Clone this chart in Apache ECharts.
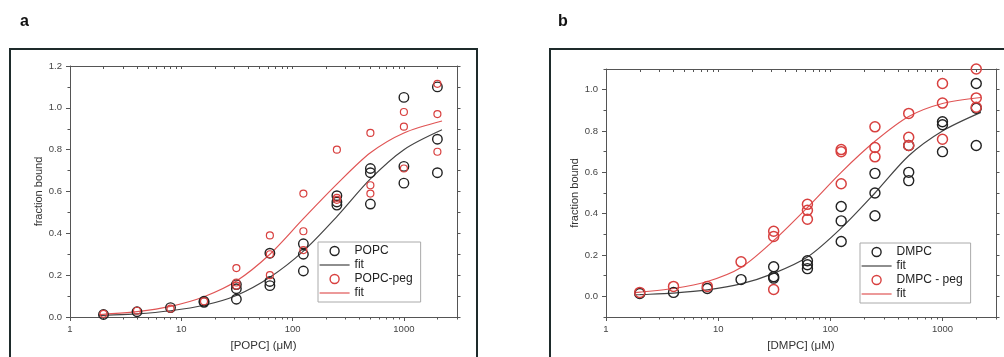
<!DOCTYPE html>
<html>
<head>
<meta charset="utf-8">
<script src="https://cdn.jsdelivr.net/npm/echarts@6/dist/echarts.min.js"></script>
<style>
  html, body { margin: 0; padding: 0; background: #fff; }
  #chart { width: 1004px; height: 357px; }
</style>
</head>
<body>
<div id="chart"></div>
<script>
// concentrations (µM) and replicate readings, one inner list per concentration
const conc = [2, 4, 8, 16, 31.25, 62.5, 125, 250, 500, 1000, 2000];

const popc = [[0.012], [0.025], [0.045], [0.075, 0.07], [0.155, 0.135, 0.085], [0.305, 0.17, 0.15],
  [0.35, 0.30, 0.22], [0.58, 0.55, 0.535], [0.71, 0.69, 0.54], [1.05, 0.72, 0.64], [1.10, 0.85, 0.69]];
const popcPeg = [[0.015], [0.03], [0.04], [0.075], [0.234, 0.165, 0.15], [0.39, 0.30, 0.20],
  [0.59, 0.41, 0.32], [0.80, 0.57, 0.56], [0.88, 0.63, 0.59], [0.98, 0.91, 0.71], [1.115, 0.97, 0.79]];

const dmpc = [[0.014], [0.019], [0.038], [0.081], [0.143, 0.095, 0.088], [0.172, 0.153, 0.134],
  [0.435, 0.365, 0.265], [0.595, 0.50, 0.39], [0.73, 0.60, 0.56], [0.845, 0.83, 0.70], [1.03, 0.91, 0.73]];
const dmpcPeg = [[0.019], [0.048], [0.048], [0.167], [0.315, 0.29, 0.033], [0.445, 0.416, 0.373],
  [0.71, 0.70, 0.545], [0.82, 0.72, 0.675], [0.885, 0.77, 0.73], [1.03, 0.935, 0.76], [1.10, 0.96, 0.915]];

// fitted curves
const fitX = [1.8, 2, 4, 8, 16, 31.25, 62.5, 125, 250, 500, 1000, 2200];
const popcFit = [0.007, 0.008, 0.015, 0.03, 0.056, 0.103, 0.19, 0.315, 0.48, 0.66, 0.8, 0.895];
const popcPegFit = [0.012, 0.013, 0.026, 0.051, 0.097, 0.172, 0.3, 0.47, 0.635, 0.785, 0.88, 0.937];
const dmpcFit = [0.007, 0.008, 0.016, 0.031, 0.06, 0.111, 0.19, 0.33, 0.5, 0.68, 0.8, 0.89];
const dmpcPegFit = [0.018, 0.02, 0.038, 0.072, 0.14, 0.27, 0.43, 0.6, 0.75, 0.87, 0.933, 0.962];

// tick values
const xMajor = [1, 10, 100, 1000];
const xMinor = [2, 3, 4, 5, 6, 7, 8, 9, 20, 30, 40, 50, 60, 70, 80, 90, 200, 300, 400, 500, 600, 700, 800, 900, 2000, 3000];
const yLabelsA = [0, 0.2, 0.4, 0.6, 0.8, 1.0, 1.2];
const yMinorA = [0.1, 0.3, 0.5, 0.7, 0.9, 1.1];
const yLabelsB = [0, 0.2, 0.4, 0.6, 0.8, 1.0];
const yMinorB = [-0.1, 0.1, 0.3, 0.5, 0.7, 0.9, 1.1];

const AXIS = '#555';
const BLACK = '#222';
const RED = '#d8403f';
const FIT_BLACK = '#444';
const FIT_RED = '#e05555';
const FONT = 'Liberation Sans, Arial, sans-serif';
const NONE = 'rgba(0,0,0,0)';

const points = (xs, reps) => xs.flatMap((x, i) => reps[i].map((y) => [x, y]));
const line = (xs, ys) => xs.map((x, i) => [x, ys[i]]);

function xAxes(grid, name) {
  const base = { type: 'log', logBase: 10, min: 1, max: 3000, gridIndex: grid, splitLine: { show: false } };
  return [
    { ...base, position: 'bottom', name, nameLocation: 'middle', nameGap: 23,
      nameTextStyle: { fontFamily: FONT, fontSize: 11.5, color: '#333' },
      axisLine: { onZero: false, lineStyle: { color: AXIS } },
      axisTick: { customValues: xMajor, length: 4, lineStyle: { color: AXIS } },
      axisLabel: { customValues: xMajor, margin: 7, fontFamily: FONT, fontSize: 9.5, color: '#444',
        formatter: (v) => String(Math.round(v)) } },
    { ...base, position: 'bottom', axisLine: { show: false, onZero: false },
      axisTick: { customValues: xMinor, length: 2.5, lineStyle: { color: AXIS } }, axisLabel: { show: false } },
    { ...base, position: 'top', axisLine: { onZero: false, lineStyle: { color: AXIS } },
      axisTick: { customValues: xMajor.concat(xMinor), inside: true, length: 3, lineStyle: { color: AXIS } },
      axisLabel: { show: false } },
  ];
}

function yAxes(grid, min, max, labels, minor) {
  const base = { type: 'value', min, max, gridIndex: grid, splitLine: { show: false } };
  return [
    { ...base, position: 'left', name: 'fraction bound', nameLocation: 'middle', nameGap: 25,
      nameTextStyle: { fontFamily: FONT, fontSize: 11, color: '#333' },
      axisLine: { show: true, onZero: false, lineStyle: { color: AXIS } },
      axisTick: { show: true, customValues: labels, length: 4, lineStyle: { color: AXIS } },
      axisLabel: { customValues: labels, margin: 8, fontFamily: FONT, fontSize: 9.5, color: '#444',
        formatter: (v) => v.toFixed(1) } },
    { ...base, position: 'left', axisLine: { show: false, onZero: false },
      axisTick: { show: true, customValues: minor, length: 2.5, lineStyle: { color: AXIS } }, axisLabel: { show: false } },
    { ...base, position: 'right', axisLine: { show: true, onZero: false, lineStyle: { color: AXIS } },
      axisTick: { show: true, customValues: labels.concat(minor), length: 3.5, lineStyle: { color: AXIS } },
      axisLabel: { show: false } },
  ];
}

function scatter(name, grid, data, color, size, width) {
  return {
    name, type: 'scatter', xAxisIndex: grid * 3, yAxisIndex: grid * 3, data,
    symbol: 'circle', symbolSize: size,
    itemStyle: { color: NONE, borderColor: color, borderWidth: width, opacity: 1 },
    z: 3,
  };
}

function fit(name, grid, data, color) {
  return {
    name, type: 'line', xAxisIndex: grid * 3, yAxisIndex: grid * 3, data,
    smooth: 0.3, symbol: 'none', itemStyle: { color: NONE, borderWidth: 0 },
    lineStyle: { color, width: 1.2 }, z: 2,
  };
}

function legend(left, top, names, colors, kinds) {
  return {
    left, top, orient: 'vertical', itemWidth: 30, itemHeight: 9, itemGap: 2,
    padding: [3, 8, 3, 1], borderColor: '#aaa', borderWidth: 1, backgroundColor: '#fff',
    selectedMode: false, z: 10,
    textStyle: { fontFamily: FONT, fontSize: 12, color: '#222' },
    data: names.map((n, i) => kinds[i] === 'o'
      ? { name: n, icon: 'circle', itemStyle: { color: NONE, borderColor: colors[i], borderWidth: 1.4 } }
      : { name: n, itemStyle: { color: NONE, borderColor: NONE, borderWidth: 0 },
          lineStyle: { color: colors[i], width: 1.2 } }),
  };
}

const chart = echarts.init(document.getElementById('chart'), null, { renderer: 'canvas' });
chart.setOption({
  backgroundColor: '#fff',
  animation: false,
  grid: [
    { left: 70, top: 66, width: 387, height: 256 },
    { left: 606, top: 69, width: 390, height: 251 },
  ],
  xAxis: [...xAxes(0, '[POPC] (\u03bcM)'), ...xAxes(1, '[DMPC] (\u03bcM)')],
  yAxis: [...yAxes(0, 0, 1.2, yLabelsA, yMinorA), ...yAxes(1, -0.1, 1.1, yLabelsB, yMinorB)],
  legend: [
    legend(318, 242, ['POPC', 'fit', 'POPC-peg', 'fit '], [BLACK, FIT_BLACK, RED, FIT_RED], ['o', '-', 'o', '-']),
    legend(860, 243, ['DMPC', 'fit  ', 'DMPC - peg', 'fit   '], [BLACK, FIT_BLACK, RED, FIT_RED], ['o', '-', 'o', '-']),
  ],
  graphic: [
    { type: 'rect', shape: { x: 10, y: 49, width: 467, height: 330 }, style: { fill: 'none', stroke: '#1e2b2b', lineWidth: 2 } },
    { type: 'rect', shape: { x: 550, y: 49, width: 470, height: 330 }, style: { fill: 'none', stroke: '#1e2b2b', lineWidth: 2 } },
    { type: 'text', left: 20, top: 14, style: { text: 'a', font: 'bold 16px ' + FONT, fill: '#111' } },
    { type: 'text', left: 558, top: 14, style: { text: 'b', font: 'bold 16px ' + FONT, fill: '#111' } },
  ],
  series: [
    scatter('POPC', 0, points(conc, popc), BLACK, 9.5, 1.4),
    fit('fit', 0, line(fitX, popcFit), FIT_BLACK),
    scatter('POPC-peg', 0, points(conc, popcPeg), RED, 7, 1.2),
    fit('fit ', 0, line(fitX, popcPegFit), FIT_RED),
    scatter('DMPC', 1, points(conc, dmpc), BLACK, 10, 1.4),
    fit('fit  ', 1, line(fitX, dmpcFit), FIT_BLACK),
    scatter('DMPC - peg', 1, points(conc, dmpcPeg), RED, 10, 1.5),
    fit('fit   ', 1, line(fitX, dmpcPegFit), FIT_RED),
  ],
});
</script>
</body>
</html>
